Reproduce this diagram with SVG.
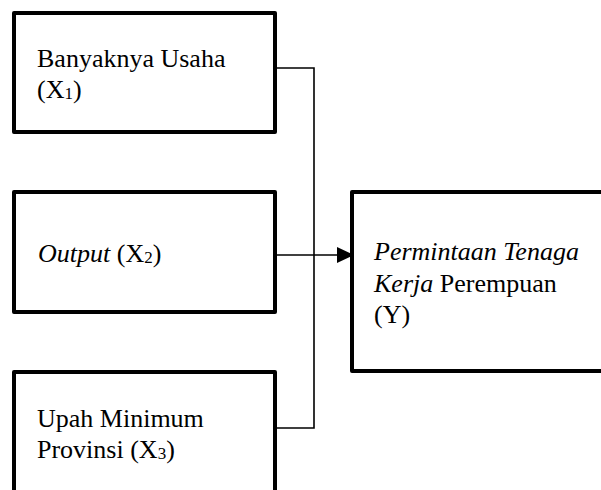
<svg xmlns="http://www.w3.org/2000/svg" width="601" height="490" viewBox="0 0 601 490">
<defs>
<style>
.box{fill:#fff;stroke:#000;stroke-width:4;stroke-linejoin:round}
.wire{fill:none;stroke:#000;stroke-width:1.6}
.t{font-size:26px;fill:#000}
.it{font-style:italic}
.sub{font-size:17px}
</style>
<marker id="ah" markerWidth="18" markerHeight="16" refX="17" refY="8" orient="auto" markerUnits="userSpaceOnUse">
<path d="M0,0 L17,8 L0,16 Z" fill="#000"/>
</marker>
</defs>
<rect width="601" height="490" fill="#fff"/>
<g id="connectors">
<path class="wire" d="M275,68 H314 V428 H275"/>
<path class="wire" d="M275,255 H354" marker-end="url(#ah)"/>
<path class="wire" d="M354,255 H359"/>
</g>
<g font-family="'Liberation Serif', 'Times New Roman', Tinos, 'DejaVu Serif', serif">
<g id="x1">
<rect class="box" x="14" y="13" width="261" height="119"/>
<text class="t" x="37" y="67">Banyaknya Usaha</text>
<text class="t" x="37" y="98">(X<tspan class="sub" dy="1">1</tspan><tspan dy="-1">)</tspan></text>
</g>
<g id="x2">
<rect class="box" x="14" y="192" width="261" height="120"/>
<text class="t" x="38" y="262"><tspan class="it">Output</tspan> (X<tspan class="sub" dy="1">2</tspan><tspan dy="-1">)</tspan></text>
</g>
<g id="x3">
<rect class="box" x="14" y="372" width="261" height="140"/>
<text class="t" x="37" y="427">Upah Minimum</text>
<text class="t" x="37" y="458">Provinsi (X<tspan class="sub" dy="1">3</tspan><tspan dy="-1">)</tspan></text>
</g>
<g id="y">
<rect class="box" x="352" y="192" width="270" height="179"/>
<text class="t it" x="374" y="260">Permintaan Tenaga</text>
<text class="t" x="374" y="292"><tspan class="it">Kerja</tspan> Perempuan</text>
<text class="t" x="374" y="323">(Y)</text>
</g>
</g>
</svg>
